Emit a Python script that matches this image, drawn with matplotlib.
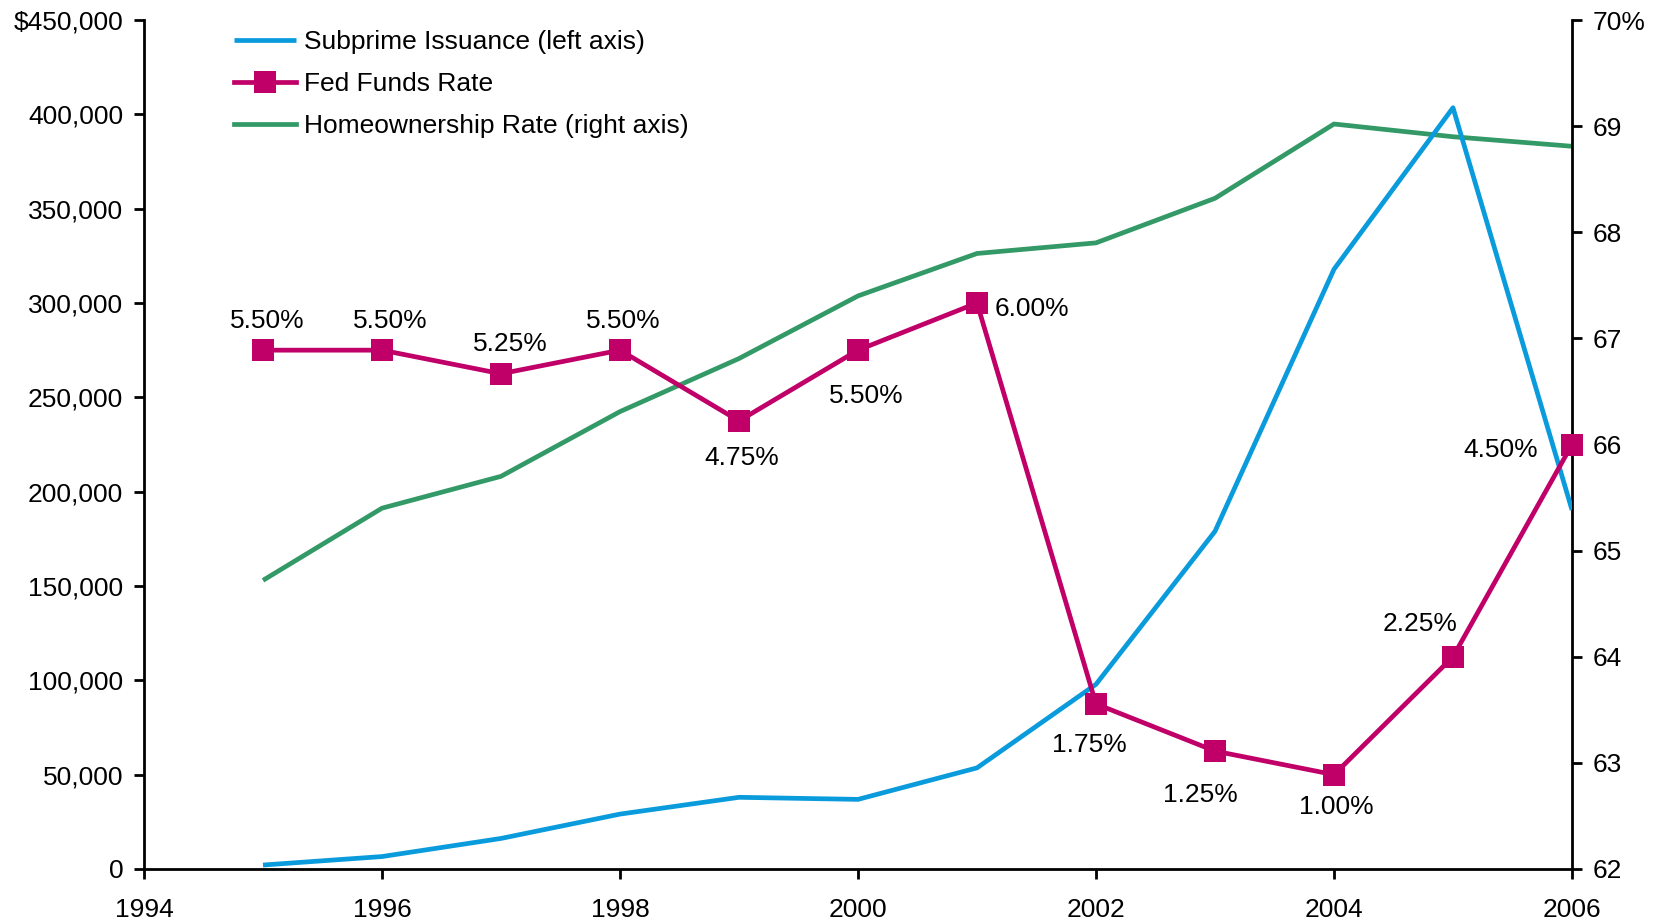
import matplotlib
matplotlib.use("Agg")
import matplotlib.pyplot as plt
from matplotlib.ticker import FixedLocator, FuncFormatter

plt.rcParams['font.family'] = ['Liberation Sans', 'DejaVu Sans']

years = [1995, 1996, 1997, 1998, 1999, 2000, 2001, 2002, 2003, 2004, 2005, 2006]
subprime = [2100, 6600, 16200, 29100, 38000, 36900, 53600, 97900, 179000, 317900, 403500, 190300]
fed_funds = [5.50, 5.50, 5.25, 5.50, 4.75, 5.50, 6.00, 1.75, 1.25, 1.00, 2.25, 4.50]
homeownership = [64.72, 65.40, 65.70, 66.31, 66.81, 67.40, 67.80, 67.90, 68.32, 69.02, 68.90, 68.81]

# Fed funds rate is drawn on the left scale: 1% -> 50,000
fed_scale = 50000
fed_scaled = [r * fed_scale for r in fed_funds]

# label offsets (pixels) and alignment for each rate annotation
label_pos = [
    ((4, 29), 'center'), ((8, 29), 'center'), ((9, 30), 'center'), ((3, 29), 'center'),
    ((3, -37), 'center'), ((8, -46), 'center'), ((18, -6), 'left'), ((-7, -41), 'center'),
    ((-15, -44), 'center'), ((2, -32), 'center'), ((-33, 33), 'center'), ((-34, -6), 'right'),
]

BLUE = '#0A9BDC'
MAGENTA = '#C00068'
GREEN = '#339966'
FS = 19

fig = plt.figure(figsize=(16.55, 9.23), dpi=100)
ax = fig.add_axes([144 / 1655, 1 - 869 / 923, (1572 - 144) / 1655, (869 - 20) / 923])
ax2 = ax.twinx()
ax.set_zorder(ax2.get_zorder() + 1)
ax.patch.set_visible(False)

ax2.plot(years, homeownership, color=GREEN, lw=3.4, solid_capstyle='butt',
         label='Homeownership Rate (right axis)')
l1, = ax.plot(years, subprime, color=BLUE, lw=3.4, solid_capstyle='butt',
              label='Subprime Issuance (left axis)')
l2, = ax.plot(years, fed_scaled, color=MAGENTA, lw=3.4, marker='s', markersize=15.5,
              markeredgewidth=0, clip_on=False, zorder=5, label='Fed Funds Rate')
l3, = ax.plot([], [], color=GREEN, lw=3.4, label='Homeownership Rate (right axis)')

for x, yv, r, ((dx, dy), ha) in zip(years, fed_scaled, fed_funds, label_pos):
    ax.annotate(f'{r:.2f}%', (x, yv), xytext=(dx, dy), textcoords='offset pixels',
                ha=ha, va='center', fontsize=FS, color='black', zorder=6)

ax.set_xlim(1994, 2006)
ax.set_ylim(0, 450000)
ax2.set_ylim(62, 70)

ax.xaxis.set_major_locator(FixedLocator(range(1994, 2007, 2)))
ax.yaxis.set_major_locator(FixedLocator(range(0, 450001, 50000)))
ax2.yaxis.set_major_locator(FixedLocator(range(62, 71)))
ax.yaxis.set_major_formatter(FuncFormatter(
    lambda v, p: f'${v:,.0f}' if v >= 450000 else f'{v:,.0f}'))
ax2.yaxis.set_major_formatter(FuncFormatter(
    lambda v, p: f'{v:.0f}%' if v >= 70 else f'{v:.0f}'))

for a in (ax, ax2):
    a.spines['top'].set_visible(False)
    for s in a.spines.values():
        s.set_linewidth(2.0)
ax2.spines['left'].set_visible(False)
ax2.spines['bottom'].set_visible(False)
ax.spines['right'].set_visible(False)

ax.tick_params(axis='y', direction='out', length=7, width=2, pad=8, labelsize=FS)
ax.tick_params(axis='x', direction='out', length=7, width=2, pad=14, labelsize=FS)
ax2.tick_params(axis='y', direction='out', length=7, width=2, pad=8, labelsize=FS)

leg = ax.legend(handles=[l1, l2, l3], loc='upper left', frameon=False, fontsize=FS,
                handlelength=2.35, handletextpad=0.3, labelspacing=0.68, borderpad=0,
                borderaxespad=0, numpoints=1,
                bbox_to_anchor=(234 / 1655, 1 - 30 / 923), bbox_transform=fig.transFigure)

fig.savefig('out.png', dpi=100)
